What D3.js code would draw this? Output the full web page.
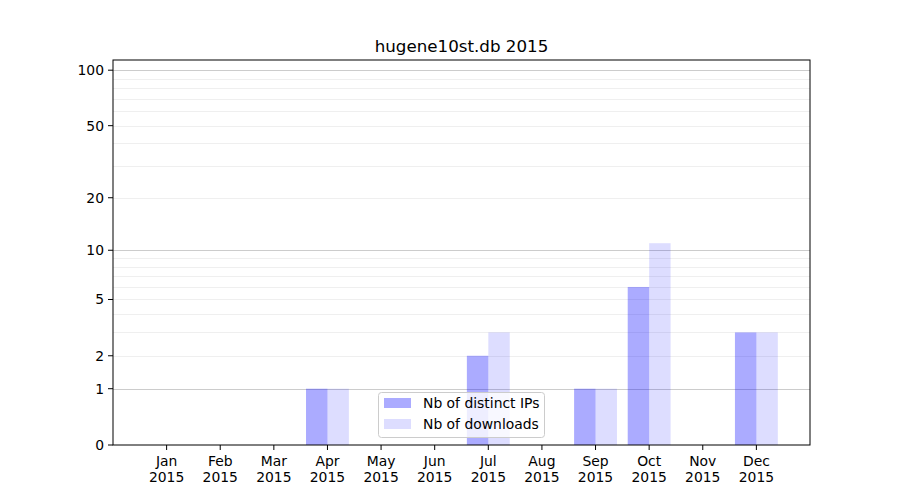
<!DOCTYPE html>
<html><head><meta charset="utf-8">
<script src="https://cdn.jsdelivr.net/npm/d3@7"></script>
<style>body{margin:0;background:#fff;} text{font-family:"DejaVu Sans",sans-serif;}</style>
</head><body><svg id="c" width="900" height="500"></svg>
<script>
const months = ["Jan","Feb","Mar","Apr","May","Jun","Jul","Aug","Sep","Oct","Nov","Dec"];
const year = "2015";
const distinctIPs = [0,0,0,1,0,0,2,0,1,6,0,3];
const downloads = [0,0,0,1,0,0,3,0,1,11,0,3];
const yTicks = [0,1,2,5,10,20,50,100];
const majorGrid = [1,10,100];
const minorGrid = [2,3,4,5,6,7,8,9,20,30,40,50,60,70,80,90];
const title = "hugene10st.db 2015";
const seriesNames = ["Nb of distinct IPs","Nb of downloads"];

const L=113,R=810,T=60,B=445;
const FS=13.9;
const svg=d3.select("#c");
const x=d3.scaleLinear().domain([-1,12]).range([L,R]);
const y=d3.scaleSymlog().constant(1).domain([0,113.5]).range([B,T]);
const bw=x(0.4)-x(0);

const g=svg.append("g");
g.selectAll(".mi").data(minorGrid).enter().append("line")
 .attr("x1",L).attr("x2",R).attr("y1",d=>Math.round(y(d))+0.5).attr("y2",d=>Math.round(y(d))+0.5)
 .attr("stroke","#ebebeb").attr("stroke-width",0.8);
g.selectAll(".ma").data(majorGrid).enter().append("line")
 .attr("x1",L).attr("x2",R).attr("y1",d=>Math.round(y(d))+0.5).attr("y2",d=>Math.round(y(d))+0.5)
 .attr("stroke","#cccccc").attr("stroke-width",1);

svg.selectAll(".b1").data(distinctIPs).enter().append("rect")
 .attr("x",(d,i)=>x(i)-bw).attr("width",bw)
 .attr("y",d=>y(d)).attr("height",d=>B-y(d))
 .attr("fill","blue").attr("fill-opacity",0.33);
svg.selectAll(".b2").data(downloads).enter().append("rect")
 .attr("x",(d,i)=>x(i)).attr("width",bw)
 .attr("y",d=>y(d)).attr("height",d=>B-y(d))
 .attr("fill","blue").attr("fill-opacity",0.135);

svg.append("rect").attr("x",L).attr("y",T).attr("width",R-L).attr("height",B-T)
 .attr("fill","none").attr("stroke","#000").attr("stroke-width",1);

// y axis
const ya=svg.append("g");
yTicks.forEach(t=>{
  const yy=y(t);
  ya.append("line").attr("x1",L-5).attr("x2",L).attr("y1",yy).attr("y2",yy).attr("stroke","#000");
  ya.append("text").attr("x",L-9).attr("y",yy).attr("dy","0.35em").attr("text-anchor","end")
    .attr("font-size",FS).text(t);
});
// x axis
months.forEach((m,i)=>{
  const xx=x(i);
  svg.append("line").attr("x1",xx).attr("x2",xx).attr("y1",B).attr("y2",B+5).attr("stroke","#000");
  const t=svg.append("text").attr("x",xx).attr("y",B+21).attr("text-anchor","middle").attr("font-size",FS);
  t.append("tspan").attr("x",xx).text(m);
  t.append("tspan").attr("x",xx).attr("dy",16).text(year);
});

svg.append("text").attr("x",(L+R)/2).attr("y",52).attr("text-anchor","middle").attr("font-size",16.7).text(title);

// legend
const lg=svg.append("g");
lg.append("rect").attr("x",378.5).attr("y",392.5).attr("width",166).attr("height",45).attr("rx",3)
 .attr("fill","white").attr("fill-opacity",0.8).attr("stroke","#cccccc");
[0.33,0.135].forEach((op,i)=>{
  lg.append("rect").attr("x",384).attr("y",398+i*21).attr("width",27).attr("height",10)
   .attr("fill","blue").attr("fill-opacity",op);
  lg.append("text").attr("x",423).attr("y",403+i*21).attr("dy","0.35em").attr("font-size",FS).text(seriesNames[i]);
});
</script></body></html>
